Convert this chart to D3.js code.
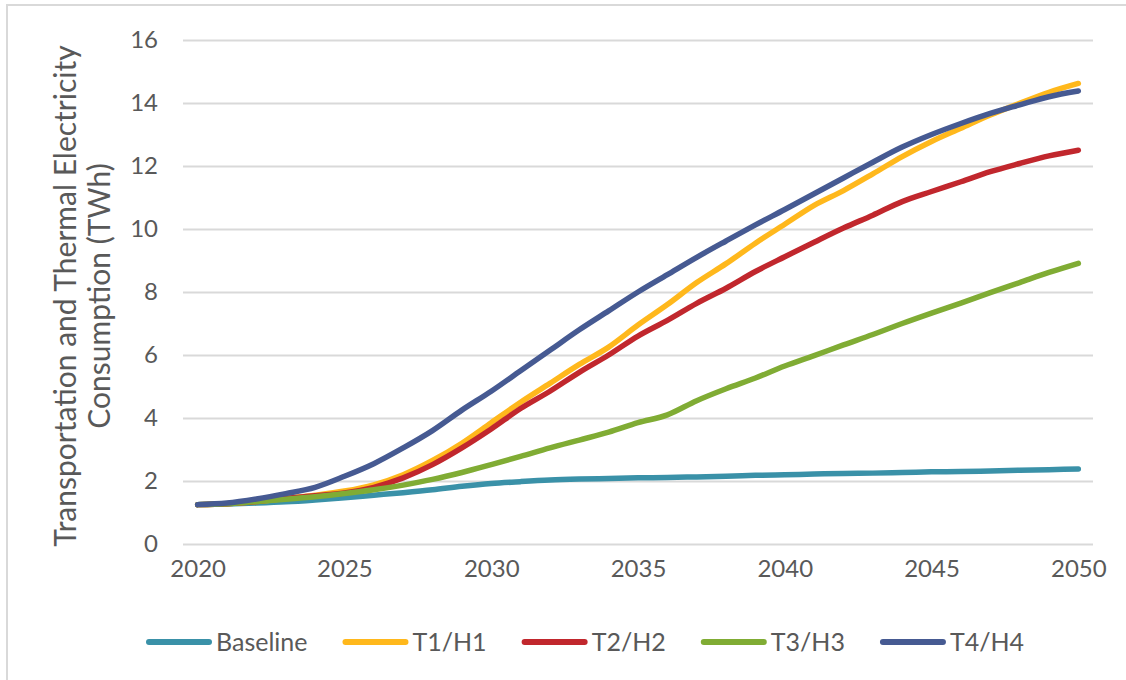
<!DOCTYPE html>
<html>
<head>
<meta charset="utf-8">
<script src="https://cdn.jsdelivr.net/npm/d3@7/dist/d3.min.js"></script>
<style>
  html, body { margin: 0; padding: 0; background: #fff; }
  svg { display: block; }
  text { font-family: Lato, "Open Sans", sans-serif; fill: #595959; }
</style>
</head>
<body>
<svg id="chart" width="1126" height="680"></svg>
<script>
// Years on the category axis
const years = d3.range(2020, 2051);

// Scenario names, in legend order
const seriesNames = ["Baseline", "T1/H1", "T2/H2", "T3/H3", "T4/H4"];

// Electricity consumption (TWh) per year, 2020–2050
const baseline = [1.25, 1.27, 1.30, 1.34, 1.40, 1.47, 1.55, 1.63, 1.72, 1.83, 1.92,
                  1.98, 2.03, 2.06, 2.08, 2.10, 2.11, 2.13, 2.15, 2.18, 2.20,
                  2.22, 2.24, 2.25, 2.27, 2.29, 2.30, 2.32, 2.34, 2.36, 2.38];
const t1h1 = [1.25, 1.28, 1.35, 1.45, 1.55, 1.68, 1.88, 2.20, 2.65, 3.20, 3.85,
              4.50, 5.10, 5.70, 6.25, 6.95, 7.60, 8.30, 8.90, 9.55, 10.15,
              10.75, 11.22, 11.75, 12.30, 12.78, 13.20, 13.62, 13.99, 14.34, 14.62];
const t2h2 = [1.25, 1.28, 1.35, 1.45, 1.53, 1.62, 1.80, 2.10, 2.52, 3.05, 3.65,
              4.30, 4.85, 5.45, 6.00, 6.60, 7.10, 7.64, 8.12, 8.65, 9.12,
              9.58, 10.03, 10.44, 10.87, 11.19, 11.50, 11.82, 12.08, 12.32, 12.50];
const t3h3 = [1.25, 1.28, 1.35, 1.42, 1.50, 1.60, 1.72, 1.87, 2.05, 2.27, 2.52,
              2.78, 3.05, 3.30, 3.55, 3.85, 4.10, 4.55, 4.93, 5.27, 5.65,
              5.98, 6.32, 6.65, 7.00, 7.33, 7.65, 7.98, 8.30, 8.62, 8.91];
const t4h4 = [1.25, 1.30, 1.43, 1.60, 1.80, 2.15, 2.55, 3.05, 3.60, 4.25, 4.85,
              5.50, 6.15, 6.80, 7.40, 8.00, 8.55, 9.10, 9.62, 10.13, 10.62,
              11.12, 11.62, 12.12, 12.60, 13.00, 13.35, 13.67, 13.94, 14.20, 14.38];

// Y-axis tick values
const yTicks = [0, 2, 4, 6, 8, 10, 12, 14, 16];

const seriesValues = [baseline, t1h1, t2h2, t3h3, t4h4];
const seriesColors = ["#3A91A8", "#FFB81C", "#C1272D", "#80AC34", "#465A92"];

const svg = d3.select("#chart");

// Outer chart frame
svg.append("rect")
  .attr("x", 7).attr("y", 5)
  .attr("width", 1140).attr("height", 700)
  .attr("fill", "#fff")
  .attr("stroke", "#d9d9d9")
  .attr("stroke-width", 2);

const plot = { left: 183, right: 1093, top: 40, bottom: 544 };

const x = d3.scalePoint()
  .domain(years)
  .range([plot.left, plot.right])
  .padding(0.5);

const y = d3.scaleLinear()
  .domain([0, 16])
  .range([plot.bottom, plot.top]);

// Horizontal gridlines with value labels
const yAxis = d3.axisLeft(y)
  .tickValues(yTicks)
  .tickSize(-(plot.right - plot.left))
  .tickPadding(25)
  .tickFormat(d3.format("d"));

const gy = svg.append("g")
  .attr("transform", `translate(${plot.left},0)`)
  .call(yAxis);
gy.select(".domain").remove();
gy.selectAll(".tick line")
  .attr("stroke", "#d9d9d9")
  .attr("stroke-width", 2);
gy.selectAll(".tick text")
  .style("font-size", "24px")
  .attr("fill", "#595959");

// Category axis labels every five years
const xAxis = d3.axisBottom(x)
  .tickValues(years.filter(yr => yr % 5 === 0))
  .tickSize(0)
  .tickPadding(16);

const gx = svg.append("g")
  .attr("transform", `translate(0,${plot.bottom})`)
  .call(xAxis);
gx.select(".domain").remove();
gx.selectAll(".tick text")
  .style("font-size", "24px")
  .attr("fill", "#595959");

// Y-axis title (two lines, rotated)
const title = svg.append("text")
  .attr("transform", "translate(0,296) rotate(-90)")
  .attr("text-anchor", "middle")
  .style("font-size", "30px");
title.append("tspan").attr("x", 0).attr("y", 76)
  .text("Transportation and Thermal Electricity");
title.append("tspan").attr("x", 0).attr("y", 110)
  .text("Consumption (TWh)");

// Scenario lines
const line = d3.line()
  .x((d, i) => x(years[i]))
  .y(d => y(d))
  .curve(d3.curveMonotoneX);

svg.append("g")
  .selectAll("path")
  .data(seriesValues)
  .join("path")
  .attr("d", d => line(d))
  .attr("fill", "none")
  .attr("stroke", (d, i) => seriesColors[i])
  .attr("stroke-width", 5.5)
  .attr("stroke-linecap", "round")
  .attr("stroke-linejoin", "round");

// Legend
const legend = svg.append("g").attr("transform", "translate(0,642)");
let lx = 146;
seriesNames.forEach((name, i) => {
  const item = legend.append("g");
  item.append("line")
    .attr("x1", lx + 3).attr("x2", lx + 63)
    .attr("y1", 0).attr("y2", 0)
    .attr("stroke", seriesColors[i])
    .attr("stroke-width", 6)
    .attr("stroke-linecap", "round");
  const t = item.append("text")
    .attr("x", lx + 70)
    .attr("y", 0)
    .attr("dy", "0.35em")
    .style("font-size", "25px")
    .text(name);
  lx += 70 + t.node().getComputedTextLength() + 35;
});
</script>
</body>
</html>
